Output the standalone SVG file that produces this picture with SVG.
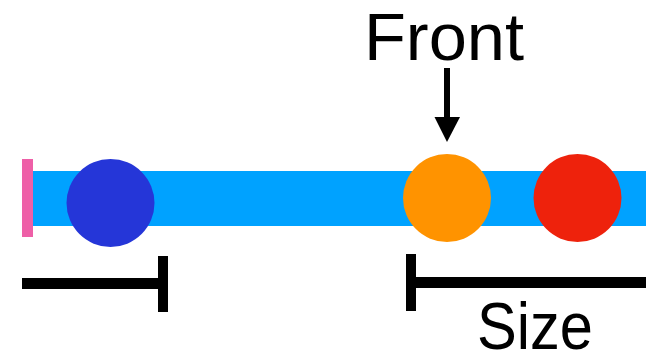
<svg xmlns="http://www.w3.org/2000/svg" width="646" height="356" viewBox="0 0 646 356">
<style>
.lbl{font-family:"Liberation Sans",Arial,sans-serif;font-size:67px;fill:#000}
.bk{fill:#000}
</style>
<defs>
<marker id="ah" markerWidth="26" markerHeight="26" refX="13" refY="25" orient="auto" markerUnits="userSpaceOnUse" viewBox="0 0 26 26">
<path d="M0,0 L26,0 L13,25 Z" fill="#000" transform="rotate(-90 13 13)"/>
</marker>
</defs>
<rect width="646" height="356" fill="#fff"/>
<g id="track">
<rect x="33" y="171" width="613" height="55" fill="#00A2FF"/>
<rect x="22" y="159" width="11" height="78" fill="#EE5FA7"/>
</g>
<g id="back-item"><circle cx="110.5" cy="203" r="44" fill="#2536D8"/></g>
<g id="front-item"><circle cx="447" cy="198" r="44" fill="#FF9300"/></g>
<g id="last-item"><circle cx="577.5" cy="198" r="44" fill="#EE220C"/></g>
<g id="front-label"><text class="lbl" x="364" y="60" textLength="160" lengthAdjust="spacingAndGlyphs">Front</text></g>
<g id="size-label"><text class="lbl" x="477" y="349" textLength="116" lengthAdjust="spacingAndGlyphs">Size</text></g>
<g id="connectors">
<rect x="444" y="68" width="6" height="50" class="bk"/>
<path d="M434.5,117 L460,117 L447,142 Z" class="bk"/>
<rect x="22" y="278" width="146" height="11" class="bk"/>
<rect x="158" y="256" width="10" height="56" class="bk"/>
<rect x="406" y="254" width="10" height="57" class="bk"/>
<rect x="416" y="277" width="230" height="11" class="bk"/>
</g>
</svg>
